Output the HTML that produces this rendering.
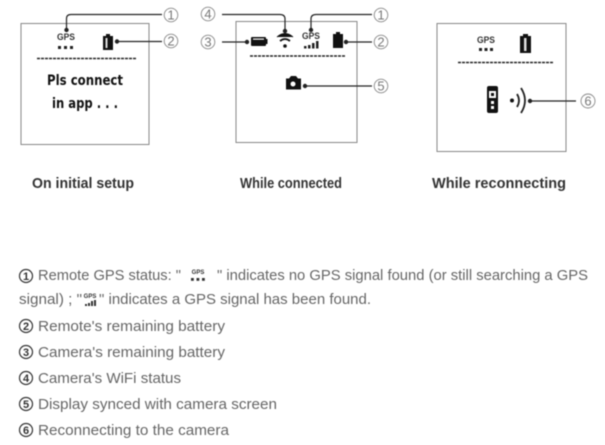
<!DOCTYPE html>
<html><head><meta charset="utf-8"><style>
html,body{margin:0;padding:0;background:#fff;width:605px;height:445px;overflow:hidden}
svg{display:block;filter:blur(.5px)}
text{font-family:"Liberation Sans",sans-serif}
.l{font-size:15px;fill:#666}
.c{font-size:15px;fill:#333;font-weight:bold}
.n{font-size:13px;fill:#777;text-anchor:middle}
.g{font-size:9px;font-weight:bold;fill:#333;text-anchor:middle}
.t{font-weight:bold;fill:#111;font-family:"DejaVu Sans","Liberation Sans",sans-serif;font-size:14px;text-anchor:middle}
.b{fill:none;stroke:#888;stroke-width:1}
.w{fill:none;stroke:#222;stroke-width:1.200}
.d{stroke:#222;stroke-width:1.500;stroke-dasharray:3 1;fill:none}
.o{fill:none;stroke:#888;stroke-width:.9}
</style></head><body>
<svg width="605" height="445" viewBox="0 0 605 445" xmlns="http://www.w3.org/2000/svg">
<!-- box 1 -->
<rect class="b" x="21" y="23.500" width="128" height="121"/>
<text class="g" x="66" y="40" textLength="18" lengthAdjust="spacingAndGlyphs">GPS</text>
<g fill="#222"><rect x="58" y="46" width="3" height="3"/><rect x="64" y="46" width="3" height="3"/><rect x="70" y="46" width="3" height="3"/></g>
<rect x="103" y="36" width="10" height="14" fill="#111"/><rect x="106" y="34" width="4" height="2" fill="#111"/><rect x="105.500" y="38" width="2" height="10" fill="#ddd"/>
<line class="d" x1="37" y1="58.500" x2="137" y2="58.500"/>
<text class="t" x="85" y="85" textLength="76" lengthAdjust="spacingAndGlyphs">Pls connect</text>
<text class="t" x="85" y="108" textLength="66" lengthAdjust="spacingAndGlyphs">in app . . .</text>
<path class="w" d="M66.500 30V18.500Q66.500 14.500 71 14.500H162"/><circle cx="66.500" cy="30" r="2.200" fill="#222"/>
<path class="w" d="M117 41.500H162"/><circle cx="117" cy="41.500" r="2.200" fill="#222"/>
<circle class="o" cx="171" cy="15" r="6.800"/><text class="n" x="171" y="19.500">1</text>
<circle class="o" cx="171" cy="41" r="6.800"/><text class="n" x="171" y="45.500">2</text>
<!-- box 2 -->
<rect class="b" x="236" y="21.500" width="121" height="121"/>
<rect x="251" y="37" width="15" height="9" rx="1" fill="#111"/><rect x="266" y="39" width="1.500" height="5" fill="#111"/><rect x="253" y="38.500" width="11" height="1.200" fill="#fff"/>
<path d="M277 37Q285 30 293 37" fill="#111" stroke="#111" stroke-width="1"/>
<path d="M280 41Q285 37 290 41" fill="none" stroke="#111" stroke-width="1.800"/>
<circle cx="285" cy="46" r="1.800" fill="#111"/>
<text class="g" x="311" y="39" textLength="18" lengthAdjust="spacingAndGlyphs">GPS</text>
<g fill="#222"><rect x="304" y="46" width="2.500" height="2.500"/><rect x="308" y="45" width="2.500" height="3.500"/><rect x="312" y="43" width="2.500" height="5.500"/><rect x="316" y="41" width="2.500" height="7.500"/></g>
<rect x="333" y="34" width="10" height="14" fill="#111"/><rect x="336" y="32" width="4" height="2" fill="#111"/>
<line class="d" x1="250" y1="56" x2="345" y2="56"/>
<path d="M286 78h3l2-2.500h5l2 2.500h3v11h-15z" fill="#111" transform="translate(0,.5)"/><circle cx="293" cy="84" r="2.500" fill="#fff"/>
<path class="w" d="M222 14.500H280Q285 14.500 285 19V31"/><circle cx="285" cy="31" r="2.200" fill="#222"/>
<path class="w" d="M372 14.500H316Q311 14.500 311 19V30"/><circle cx="311" cy="30" r="2.200" fill="#222"/>
<path class="w" d="M222 42H247"/><circle cx="247" cy="42" r="2.200" fill="#222"/>
<path class="w" d="M346 42H372"/><circle cx="346" cy="42" r="2.200" fill="#222"/>
<path class="w" d="M305 86H372"/><circle cx="305" cy="86" r="2.200" fill="#222"/>
<circle class="o" cx="208" cy="14" r="6.800"/><text class="n" x="208" y="18.500">4</text>
<circle class="o" cx="208" cy="42" r="6.800"/><text class="n" x="208" y="46.500">3</text>
<circle class="o" cx="381" cy="15" r="6.800"/><text class="n" x="381" y="19.500">1</text>
<circle class="o" cx="381" cy="42" r="6.800"/><text class="n" x="381" y="46.500">2</text>
<circle class="o" cx="381" cy="86" r="6.800"/><text class="n" x="381" y="90.500">5</text>
<!-- box 3 -->
<rect class="b" x="437" y="23.500" width="129" height="128"/>
<text class="g" x="486" y="43" textLength="18" lengthAdjust="spacingAndGlyphs">GPS</text>
<g fill="#222"><rect x="479" y="48" width="3" height="3"/><rect x="484.500" y="48" width="3" height="3"/><rect x="490" y="48" width="3" height="3"/></g>
<rect x="520" y="36" width="11" height="17" fill="#111"/><rect x="523" y="34" width="5" height="2" fill="#111"/><rect x="524" y="38" width="2.500" height="13" fill="#ddd"/>
<line class="d" x1="458" y1="62.500" x2="554" y2="62.500"/>
<rect x="487" y="86" width="11" height="27" rx="2" fill="#111"/><rect x="489" y="91" width="7" height="7" fill="#fff"/><rect x="491" y="93" width="3" height="3" fill="#111"/><rect x="491" y="101" width="3" height="3" fill="#fff"/><rect x="491" y="106" width="3" height="3" fill="#fff"/>
<circle cx="512" cy="100.500" r="2" fill="#111"/>
<path d="M517 94Q521 100.500 517 107" class="w" style="stroke-width:1.800"/>
<path d="M521 88Q529 100.500 521 113" class="w" style="stroke-width:1.800"/>
<path class="w" d="M530 101H576"/><circle cx="530" cy="101" r="2.200" fill="#222"/>
<circle class="o" cx="588" cy="101" r="7"/><text class="n" x="588" y="105.500">6</text>
<!-- captions -->
<text class="c" x="32" y="188" textLength="102" lengthAdjust="spacingAndGlyphs">On initial setup</text>
<text class="c" x="240" y="188" textLength="102" lengthAdjust="spacingAndGlyphs">While connected</text>
<text class="c" x="432" y="188" textLength="134" lengthAdjust="spacingAndGlyphs">While reconnecting</text>
<!-- legend -->
<g fill="#333" font-size="11" text-anchor="middle" font-weight="bold">
<g fill="none" stroke="#333" stroke-width="1.200"><circle cx="26" cy="276" r="6.500"/><circle cx="26" cy="326" r="6.500"/><circle cx="26" cy="352" r="6.500"/><circle cx="26" cy="378" r="6.500"/><circle cx="26" cy="404" r="6.500"/><circle cx="26" cy="430" r="6.500"/></g>
<text x="26" y="280">1</text><text x="26" y="330">2</text><text x="26" y="356">3</text><text x="26" y="382">4</text><text x="26" y="408">5</text><text x="26" y="434">6</text>
</g>
<text class="l" x="38" y="280" textLength="143" lengthAdjust="spacingAndGlyphs">Remote GPS status: "</text>
<text x="198" y="274" font-size="6" font-weight="bold" fill="#333" text-anchor="middle">GPS</text>
<g fill="#333"><rect x="191" y="278" width="2.800" height="2.800"/><rect x="196.500" y="278" width="2.800" height="2.800"/><rect x="202" y="278" width="2.800" height="2.800"/></g>
<text class="l" x="217" y="280" textLength="371" lengthAdjust="spacingAndGlyphs">" indicates no GPS signal found (or still searching a GPS</text>
<text class="l" x="19" y="304" textLength="63" lengthAdjust="spacingAndGlyphs">signal) ; "</text>
<text x="90" y="298" font-size="6" font-weight="bold" fill="#333" text-anchor="middle">GPS</text>
<g fill="#333"><rect x="85" y="304" width="2" height="2"/><rect x="88" y="303" width="2" height="3"/><rect x="91" y="301" width="2" height="5"/><rect x="94" y="300" width="2" height="6"/></g>
<text class="l" x="99" y="304" textLength="272" lengthAdjust="spacingAndGlyphs">" indicates a GPS signal has been found.</text>
<text class="l" x="38" y="331" textLength="187" lengthAdjust="spacingAndGlyphs">Remote's remaining battery</text>
<text class="l" x="38" y="357" textLength="187" lengthAdjust="spacingAndGlyphs">Camera's remaining battery</text>
<text class="l" x="38" y="383" textLength="143" lengthAdjust="spacingAndGlyphs">Camera's WiFi status</text>
<text class="l" x="38" y="409" textLength="239" lengthAdjust="spacingAndGlyphs">Display synced with camera screen</text>
<text class="l" x="38" y="435" textLength="191" lengthAdjust="spacingAndGlyphs">Reconnecting to the camera</text>
</svg>
</body></html>
